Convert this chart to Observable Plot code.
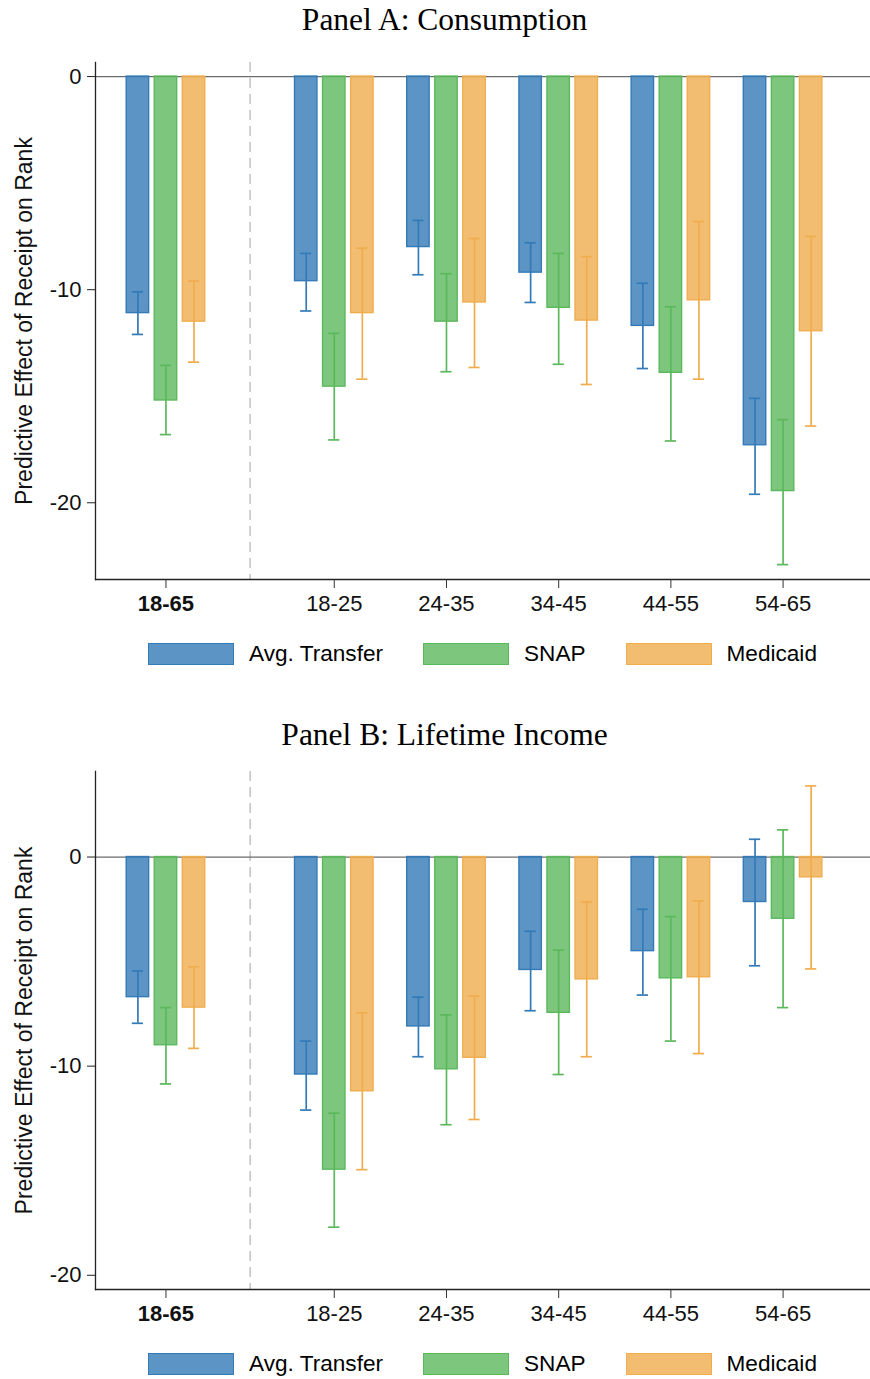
<!DOCTYPE html>
<html>
<head>
<meta charset="utf-8">
<script src="https://cdn.jsdelivr.net/npm/d3@7"></script>
<script src="https://cdn.jsdelivr.net/npm/@observablehq/plot@0.6"></script>
<style>
  body { margin: 0; background: #fff; }
  #root { position: relative; width: 870px; height: 1379px; overflow: hidden; background: #fff;
          font-family: "Liberation Sans", Arial, Helvetica, sans-serif; }
  .title { position: absolute; left: 0; width: 889px; text-align: center; z-index: 2;
           font-family: "Liberation Serif", "Times New Roman", serif; font-size: 31.5px; line-height: 1; color: #000; }
  .chart { position: absolute; left: 0; z-index: 1; }
  .legend { position: absolute; left: 95px; width: 775px; height: 24px; z-index: 2;
            display: flex; justify-content: center; align-items: center; gap: 40px;
            font-size: 22.6px; color: #000; }
  .item { display: flex; align-items: center; }
  .sw { width: 84px; height: 20px; margin-right: 15px; border-width: 1.4px; border-style: solid; }
</style>
</head>
<body>
<div id="root"></div>
<script>
// ---------- data ----------
const groups = ["18-65", "18-25", "24-35", "34-45", "44-55", "54-65"];
const seriesNames = ["Avg. Transfer", "SNAP", "Medicaid"];
const seriesColors = ["#337ab7", "#5cb85c", "#f0ad4e"];
const yTicksA = [0, -10, -20];
const yTicksB = [0, -10, -20];
const yLabel = "Predictive Effect of Receipt on Rank";
const titleA = "Panel A: Consumption";
const titleB = "Panel B: Lifetime Income";

// Panel A: Consumption
const consAvg    = [-11.1, -9.6, -8.0, -9.2, -11.7, -17.3];
const consAvgLo  = [-12.1, -11.0, -9.3, -10.6, -13.7, -19.6];
const consAvgHi  = [-10.1, -8.3, -6.75, -7.8, -9.7, -15.1];
const consSnap   = [-15.2, -14.55, -11.5, -10.85, -13.9, -19.45];
const consSnapLo = [-16.8, -17.05, -13.85, -13.5, -17.1, -22.9];
const consSnapHi = [-13.55, -12.05, -9.25, -8.3, -10.8, -16.1];
const consMed    = [-11.5, -11.1, -10.6, -11.45, -10.5, -11.95];
const consMedLo  = [-13.4, -14.2, -13.65, -14.45, -14.2, -16.4];
const consMedHi  = [-9.6, -8.05, -7.6, -8.45, -6.8, -7.5];

// Panel B: Lifetime Income
const incAvg    = [-6.7, -10.4, -8.1, -5.4, -4.5, -2.15];
const incAvgLo  = [-7.95, -12.1, -9.55, -7.35, -6.6, -5.2];
const incAvgHi  = [-5.45, -8.8, -6.7, -3.55, -2.5, 0.85];
const incSnap   = [-9.0, -14.95, -10.15, -7.45, -5.8, -2.95];
const incSnapLo = [-10.85, -17.7, -12.8, -10.4, -8.8, -7.2];
const incSnapHi = [-7.2, -12.25, -7.55, -4.45, -2.85, 1.3];
const incMed    = [-7.2, -11.2, -9.6, -5.85, -5.75, -0.97];
const incMedLo  = [-9.15, -14.95, -12.55, -9.55, -9.4, -5.35];
const incMedHi  = [-5.25, -7.45, -6.65, -2.15, -2.1, 3.4];

// ---------- layout helpers ----------
// pooled group first, then a half-slot gap, then the age groups
const groupPos = groups.map((g, i) => (i === 0 ? 0 : i + 0.5));
const dividerPos = (groupPos[0] + groupPos[1]) / 2;
const barOffset = 0.25, barHalf = 0.1, capHalf = 0.05;

function buildRows(vals, los, his) {
  const rows = [];
  seriesNames.forEach((s, j) => {
    groups.forEach((g, i) => {
      rows.push({series: s, group: g, x: groupPos[i] + (j - 1) * barOffset,
                 v: vals[j][i], lo: los[j][i], hi: his[j][i]});
    });
  });
  return rows;
}

function panel(rows, yDomain, yTicks, height, marginTop, marginBottom) {
  const fmt = new Map(groups.map((g, i) => [groupPos[i], g]));
  return Plot.plot({
    width: 870, height, marginLeft: 95, marginRight: 0, marginTop, marginBottom,
    style: {fontFamily: '"Liberation Sans", Arial, Helvetica, sans-serif', fontSize: "22px",
            color: "#111", background: "transparent", overflow: "visible"},
    x: {domain: [-0.628, 6.279], axis: null},
    y: {domain: yDomain, axis: null},
    color: {domain: seriesNames, range: seriesColors},
    marks: [
      Plot.ruleX([dividerPos], {stroke: "#bdbdbd", strokeWidth: 1.4, strokeDasharray: "10,6"}),
      Plot.ruleY([0], {stroke: "#6b6b6b", strokeWidth: 1.3}),
      Plot.rect(rows, {x1: d => d.x - barHalf, x2: d => d.x + barHalf, y1: () => 0, y2: "v",
                       fill: "series", fillOpacity: 0.8, stroke: "series", strokeWidth: 1.4}),
      Plot.ruleX(rows, {x: "x", y1: "lo", y2: "hi", stroke: "series", strokeWidth: 1.7}),
      Plot.ruleY(rows, {y: "lo", x1: d => d.x - capHalf, x2: d => d.x + capHalf, stroke: "series", strokeWidth: 1.7}),
      Plot.ruleY(rows, {y: "hi", x1: d => d.x - capHalf, x2: d => d.x + capHalf, stroke: "series", strokeWidth: 1.7}),
      Plot.frame({anchor: "left", stroke: "#222", strokeWidth: 1.3}),
      Plot.frame({anchor: "bottom", stroke: "#222", strokeWidth: 1.3}),
      Plot.axisY({ticks: yTicks, tickSize: 8, tickPadding: 6, tickFormat: d => String(d),
                  label: null, fontSize: 22, stroke: "#222"}),
      Plot.axisX({ticks: [groupPos[0]], tickSize: 9, tickPadding: 7, tickFormat: d => fmt.get(d),
                  label: null, fontSize: 22, fontWeight: "bold", stroke: "#333"}),
      Plot.axisX({ticks: groupPos.slice(1), tickSize: 9, tickPadding: 7, tickFormat: d => fmt.get(d),
                  label: null, fontSize: 22, stroke: "#333"}),
      Plot.text([yLabel], {frameAnchor: "left", textAnchor: "middle", lineAnchor: "middle",
                           rotate: -90, dx: -71, fontSize: 23, fill: "#111"})
    ]
  });
}

function legend(top) {
  const div = document.createElement("div");
  div.className = "legend";
  div.style.top = top + "px";
  seriesNames.forEach((s, j) => {
    const item = document.createElement("div");
    item.className = "item";
    const sw = document.createElement("div");
    sw.className = "sw";
    const c = d3.color(seriesColors[j]);
    sw.style.borderColor = seriesColors[j];
    sw.style.background = `rgba(${c.r},${c.g},${c.b},0.8)`;
    const lab = document.createElement("span");
    lab.textContent = s;
    item.appendChild(sw);
    item.appendChild(lab);
    div.appendChild(item);
  });
  return div;
}

function title(text, top) {
  const d = document.createElement("div");
  d.className = "title";
  d.style.top = top + "px";
  d.textContent = text;
  return d;
}

const root = document.getElementById("root");

const rowsA = buildRows([consAvg, consSnap, consMed], [consAvgLo, consSnapLo, consMedLo], [consAvgHi, consSnapHi, consMedHi]);
const rowsB = buildRows([incAvg, incSnap, incMed], [incAvgLo, incSnapLo, incMedLo], [incAvgHi, incSnapHi, incMedHi]);

const chartA = panel(rowsA, [-23.6, 0.66], yTicksA, 630, 62, 51);
chartA.classList.add("chart");
chartA.style.top = "0px";
root.appendChild(chartA);

const chartB = panel(rowsB, [-20.68, 4.09], yTicksB, 640, 81, 41);
chartB.classList.add("chart");
chartB.style.top = "690px";
root.appendChild(chartB);

root.appendChild(title(titleA, 3.6));
root.appendChild(title(titleB, 718.6));
root.appendChild(legend(642));
root.appendChild(legend(1352));
</script>
</body>
</html>
